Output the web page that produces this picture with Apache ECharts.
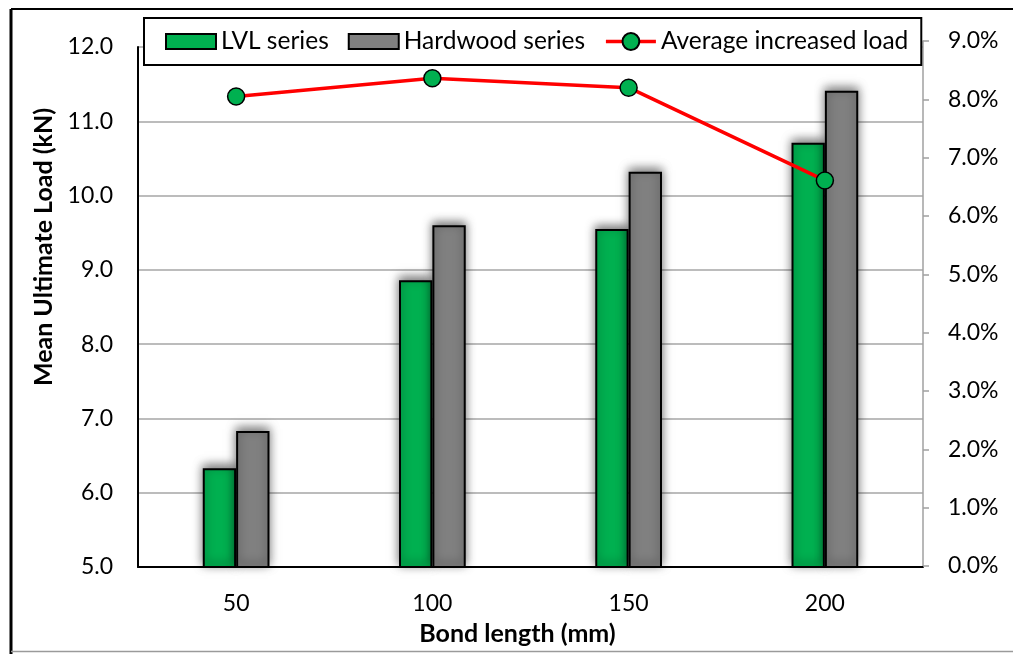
<!DOCTYPE html>
<html>
<head>
<meta charset="utf-8">
<script src="https://cdn.jsdelivr.net/npm/echarts@6/dist/echarts.min.js"></script>
<style>
html,body{margin:0;padding:0;background:#fff;}
#chart{width:1013px;height:654px;}
</style>
</head>
<body>
<div id="chart"></div>
<script>
const categories = ['50', '100', '150', '200'];
const lvlSeries = [6.33, 8.86, 9.55, 10.71];
const hardwoodSeries = [6.83, 9.60, 10.32, 11.41];
const avgIncrease = [8.05, 8.36, 8.20, 6.61];
const leftTicks = {min: 5, max: 12, interval: 1};
const rightTicks = {min: 0, max: 9, interval: 1};

const FONT = 'Lato, "Open Sans", sans-serif';
const chart = echarts.init(document.getElementById('chart'), null, {renderer: 'canvas'});

const barShadow = {
  shadowBlur: 10,
  shadowColor: 'rgba(0,0,0,0.55)',
  shadowOffsetX: 0,
  shadowOffsetY: -3
};
const barIcon = 'path://M0,0 L50,0 L50,15 L0,15 Z';

chart.setOption({
  backgroundColor: '#ffffff',
  animation: false,
  textStyle: {fontFamily: FONT, color: '#000'},
  graphic: [
    {type: 'line', shape: {x1: 11, y1: 9, x2: 1013, y2: 9}, style: {stroke: '#000', lineWidth: 2}},
    {type: 'line', shape: {x1: 11, y1: 9, x2: 11, y2: 654}, style: {stroke: '#000', lineWidth: 3}},
    {type: 'line', shape: {x1: 11, y1: 651.5, x2: 1013, y2: 651.5}, style: {stroke: '#9a9a9a', lineWidth: 1.5}}
  ],
  legend: {
    left: 144,
    top: 18,
    width: 850,
    orient: 'horizontal',
    backgroundColor: '#fff',
    borderColor: '#000',
    borderWidth: 2,
    padding: [11, 13, 11, 21],
    itemWidth: 50,
    itemHeight: 21,
    itemGap: 19,
    symbolKeepAspect: true,
    textStyle: {fontFamily: FONT, fontSize: 24.5, color: '#000'},
    data: [
      {name: 'LVL series', icon: barIcon},
      {name: 'Hardwood series', icon: barIcon},
      {name: 'Average increased load', lineStyle: {color: '#ff0000', width: 3.5}}
    ],
    z: 10
  },
  grid: [
    {left: 138, right: 90, top: 47, bottom: 87, containLabel: false},
    {left: 138, right: 90, top: 41, bottom: 88, containLabel: false}
  ],
  xAxis: [
    {
      type: 'category',
      gridIndex: 0,
      data: categories,
      axisLine: {lineStyle: {color: '#000', width: 2}},
      axisTick: {show: false},
      axisLabel: {fontFamily: FONT, fontSize: 23, color: '#000', margin: 25},
      name: 'Bond length (mm)',
      nameLocation: 'middle',
      nameGap: 54,
      nameTextStyle: {fontFamily: FONT, fontSize: 25, fontWeight: 'bold', color: '#000', padding: [0, 26, 0, 0]}
    },
    {
      type: 'category',
      gridIndex: 1,
      data: categories,
      show: false
    }
  ],
  yAxis: [
    {
      type: 'value',
      gridIndex: 0,
      position: 'left',
      min: leftTicks.min,
      max: leftTicks.max,
      interval: leftTicks.interval,
      axisLine: {show: true, lineStyle: {color: '#000', width: 2}},
      axisTick: {show: false},
      splitLine: {show: true, lineStyle: {color: '#a6a6a6', width: 1.5}},
      axisLabel: {fontFamily: FONT, fontSize: 23, color: '#000', margin: 25, formatter: v => v.toFixed(1)},
      name: 'Mean Ultimate Load (kN)',
      nameLocation: 'middle',
      nameGap: 78,
      nameRotate: 90,
      nameTextStyle: {fontFamily: FONT, fontSize: 25, fontWeight: 'bold', color: '#000', padding: [0, 0, 0, 120]}
    },
    {
      type: 'value',
      gridIndex: 1,
      position: 'right',
      min: rightTicks.min,
      max: rightTicks.max,
      interval: rightTicks.interval,
      axisLine: {show: true, lineStyle: {color: '#a0a0a0', width: 1.5}},
      axisTick: {show: true, inside: false, length: 6, lineStyle: {color: '#a0a0a0', width: 1.5}},
      splitLine: {show: false},
      axisLabel: {fontFamily: FONT, fontSize: 23, color: '#000', margin: 25, formatter: v => v.toFixed(1) + '%'}
    }
  ],
  series: [
    {
      name: 'LVL series',
      type: 'bar',
      xAxisIndex: 0,
      yAxisIndex: 0,
      data: lvlSeries,
      barGap: '0%',
      barCategoryGap: '66%',
      itemStyle: Object.assign({color: '#00b050', borderColor: '#000', borderWidth: 2}, barShadow),
      z: 2
    },
    {
      name: 'Hardwood series',
      type: 'bar',
      xAxisIndex: 0,
      yAxisIndex: 0,
      data: hardwoodSeries,
      barGap: '0%',
      barCategoryGap: '66%',
      itemStyle: Object.assign({color: '#808080', borderColor: '#000', borderWidth: 2}, barShadow),
      z: 2
    },
    {
      name: 'Average increased load',
      type: 'line',
      xAxisIndex: 1,
      yAxisIndex: 1,
      data: avgIncrease,
      symbol: 'circle',
      symbolSize: 17,
      lineStyle: {color: '#ff0000', width: 3.5},
      itemStyle: {color: '#00b050', borderColor: '#000', borderWidth: 1.5},
      z: 5
    }
  ]
});
</script>
</body>
</html>
